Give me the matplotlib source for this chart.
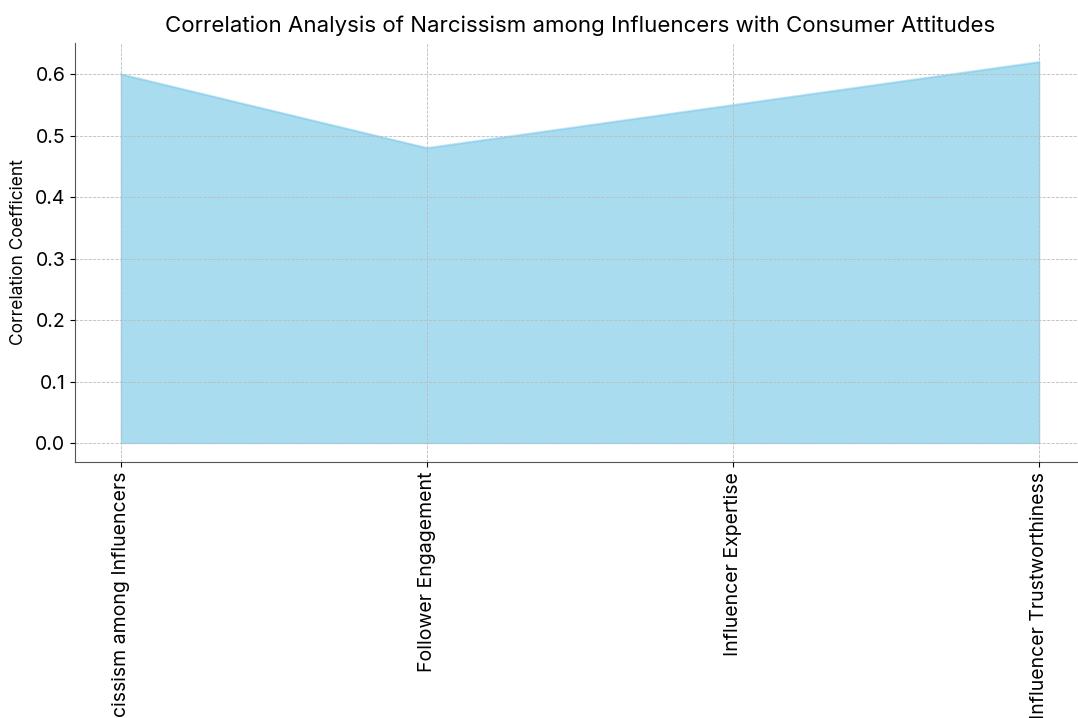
import matplotlib
matplotlib.use("Agg")
import matplotlib.pyplot as plt

categories = ["Narcissism among Influencers", "Follower Engagement",
              "Influencer Expertise", "Influencer Trustworthiness"]
correlations = [0.60, 0.48, 0.55, 0.62]

plt.rcParams['font.family'] = ['Inter', 'DejaVu Sans']

fig = plt.figure(figsize=(10.78, 7.18), dpi=100)
ax = fig.add_axes([75 / 1078, (718 - 462) / 718, 1010 / 1078, (462 - 43) / 718])

x = range(len(categories))
ax.fill_between(x, correlations, color='skyblue', alpha=0.7)
ax.plot(x, correlations, color='skyblue', alpha=0.5, linewidth=1.5)

ax.set_title("Correlation Analysis of Narcissism among Influencers with Consumer Attitudes",
             fontsize=16, pad=8)
ax.set_ylabel("Correlation Coefficient", fontsize=12.5, labelpad=6)
ax.set_xticks(list(x))
ax.set_xticklabels(categories, rotation=90, fontsize=14)
ax.tick_params(axis='y', labelsize=14)
ax.grid(True, linestyle='--', linewidth=0.6, color='#bbbbbb')
ax.set_axisbelow(False)

for s in ['top', 'right']:
    ax.spines[s].set_visible(False)
for s in ['left', 'bottom']:
    ax.spines[s].set_color('#555555')

fig.savefig("out.png", dpi=100)
